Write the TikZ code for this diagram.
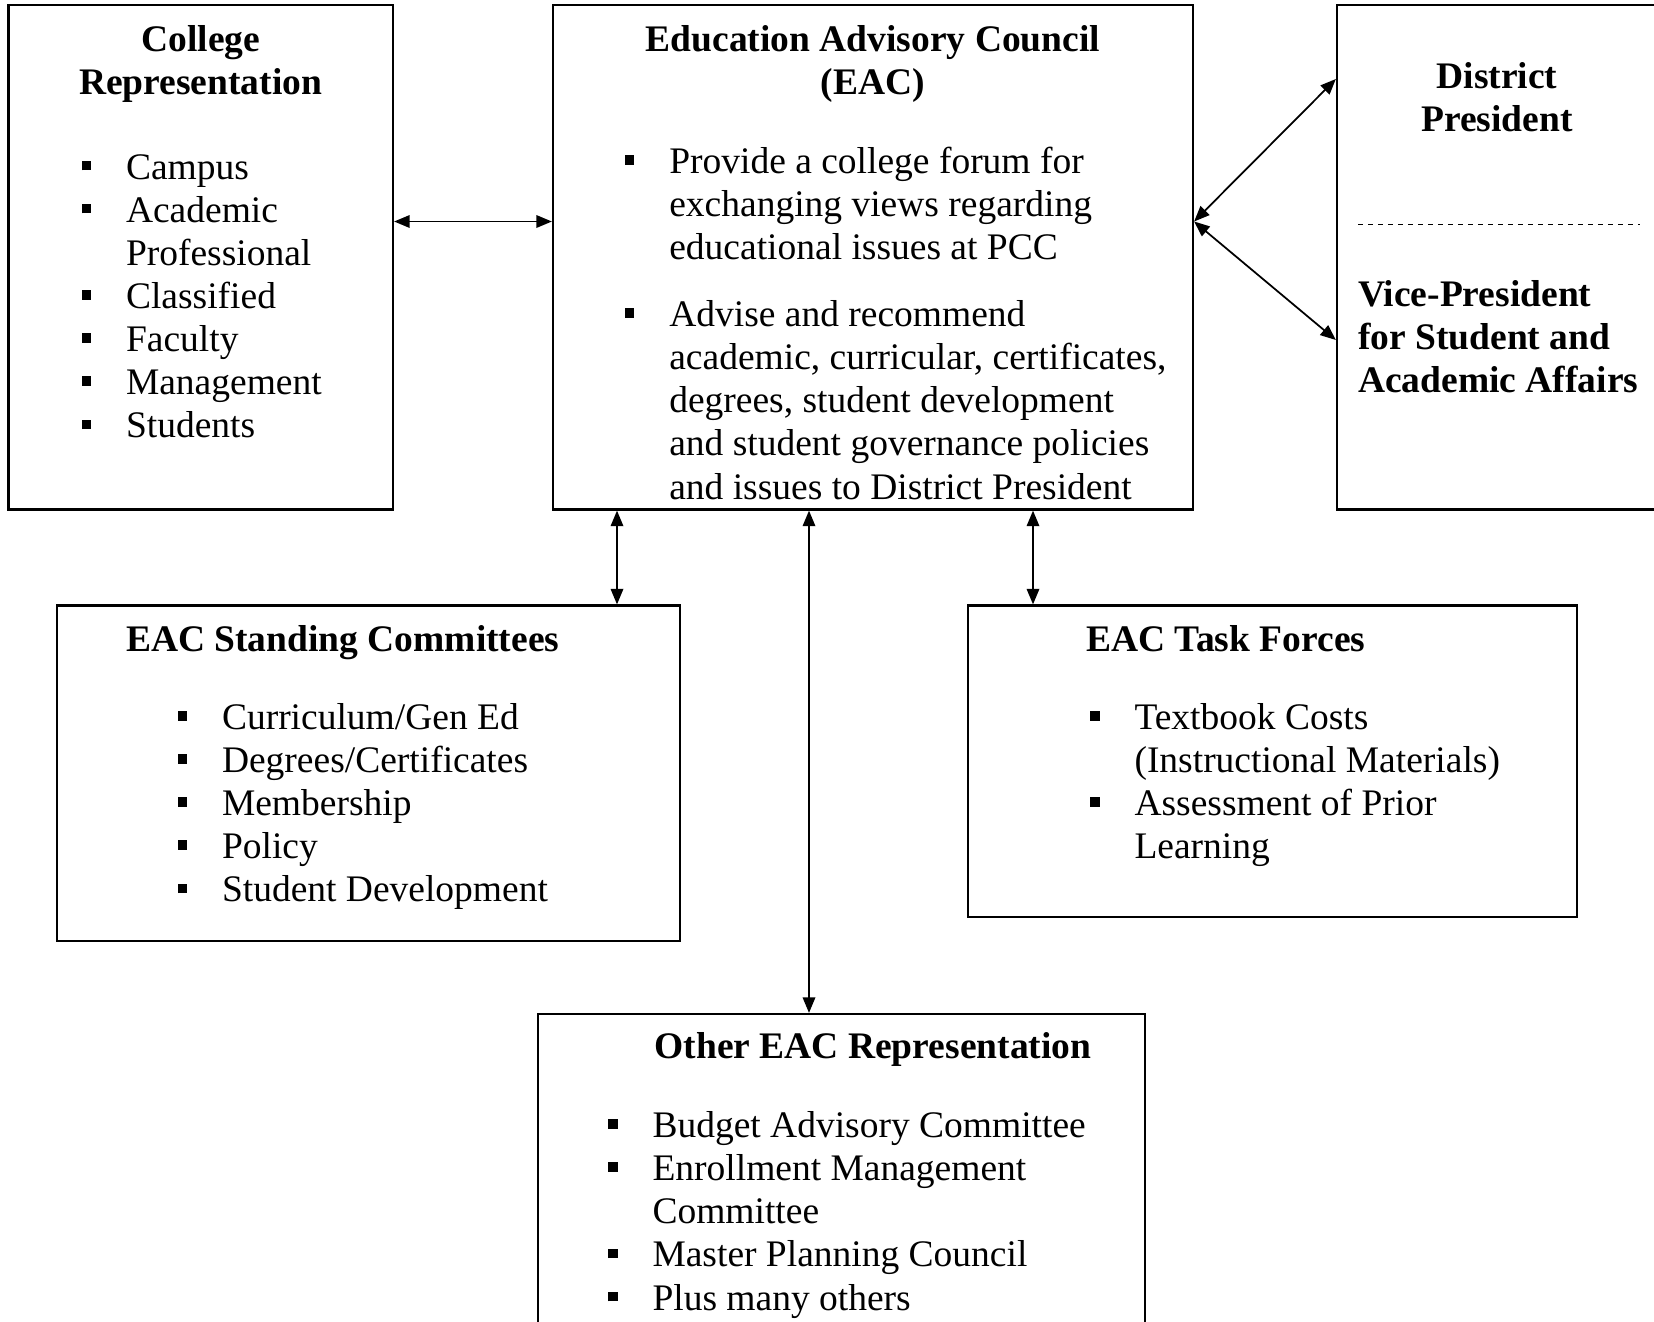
\documentclass[tikz,border=0pt]{standalone}
\usepackage{fontspec}
\setmainfont{Liberation Serif}
\usetikzlibrary{arrows.meta,fit}
\newcommand\sqbul{\makebox[17.8pt][l]{\rule[3.5pt]{3.8pt}{3.8pt}}}
\begin{document}
\begin{tikzpicture}[x=0.4pt,y=-0.4pt,
  box/.style={draw, line width=0.9pt, inner sep=0pt},
  txt/.style={inner sep=0pt, font=\fontsize{15}{17.25}\selectfont},
  hd/.style={inner sep=0pt, font=\fontsize{15}{17.25}\selectfont\bfseries},
  link/.style={line width=0.7pt, {Triangle[length=6.2pt,width=5pt]}-{Triangle[length=6.2pt,width=5pt]}}]
\useasboundingbox (0,0) rectangle (1654,1321);

% boxes
\node[box, fit={(8.4,5.3) (393,509.5)}] (lbox) {};
\node[box, fit={(553,5.3) (1193,509.5)}] (eac) {};
\node[box, fit={(1337,5.3) (1690,509.5)}] (rbox) {};
\node[box, fit={(57,605.5) (680,941)}] (sc) {};
\node[box, fit={(968,605.5) (1577,917)}] (tf) {};
\node[box, fit={(538,1014) (1145,1360)}] (ot) {};

% dotted divider
\coordinate (dl) at (1358,224.7);
\coordinate (dr) at (1640,224.7);
\draw[line width=0.5pt, dash pattern=on 2pt off 2pt] (dl) -- (dr);

% connectors
\coordinate (ya) at (0,221.5);
\coordinate (ypd) at (0,79);
\coordinate (yvp) at (0,340);
\coordinate (x1) at (617,0);
\coordinate (x2) at (809,0);
\coordinate (x3) at (1033,0);
\draw[link] (lbox.east |- ya) -- (eac.west |- ya);
\draw[link] (eac.east |- ya) -- (rbox.west |- ypd);
\draw[link] (eac.east |- ya) -- (rbox.west |- yvp);
\draw[link] (eac.south -| x1) -- (sc.north -| x1);
\draw[link] (eac.south -| x2) -- (ot.north -| x2);
\draw[link] (eac.south -| x3) -- (tf.north -| x3);

% College Representation
\node[hd, anchor=base] (ltitle) at (200.7,51) {\begin{tabular}[t]{@{}c@{}}College\\Representation\end{tabular}};
\node[txt, anchor=base west] (llist) at (81,179) {\begin{tabular}[t]{@{}l@{}l@{}}
\sqbul & Campus\\
\sqbul & Academic\\
 & Professional\\
\sqbul & Classified\\
\sqbul & Faculty\\
\sqbul & Management\\
\sqbul & Students\end{tabular}};

% EAC
\node[hd, anchor=base] (eactitle) at (873,51) {\begin{tabular}[t]{@{}c@{}}Education Advisory Council\\(EAC)\end{tabular}};
\node[txt, anchor=base west] (eaclist) at (624.3,173.4) {\begin{tabular}[t]{@{}l@{}l@{}}
\sqbul & Provide a college forum for\\
 & exchanging views regarding\\
 & educational issues at PCC\\[9.5pt]
\sqbul & Advise and recommend\\
 & academic, curricular, certificates,\\
 & degrees, student development\\
 & and student governance policies\\
 & and issues to District President\end{tabular}};

% right box
\node[hd, anchor=base] (dptitle) at (1497,88) {\begin{tabular}[t]{@{}c@{}}District\\President\end{tabular}};
\node[hd, anchor=base west] (vptitle) at (1357.6,306) {\begin{tabular}[t]{@{}l@{}}Vice-President\\for Student and\\Academic Affairs\end{tabular}};

% Standing committees
\node[hd, anchor=base west] (sctitle) at (125.5,651.3) {EAC Standing Committees};
\node[txt, anchor=base west] (sclist) at (177,729.3) {\begin{tabular}[t]{@{}l@{}l@{}}
\sqbul & Curriculum/Gen Ed\\
\sqbul & Degrees/Certificates\\
\sqbul & Membership\\
\sqbul & Policy\\
\sqbul & Student Development\end{tabular}};

% Task forces
\node[hd, anchor=base west] (tftitle) at (1085.5,651.3) {EAC Task Forces};
\node[txt, anchor=base west] (tflist) at (1089.5,729.3) {\begin{tabular}[t]{@{}l@{}l@{}}
\sqbul & Textbook Costs\\
 & (Instructional Materials)\\
\sqbul & Assessment of Prior\\
 & Learning\end{tabular}};

% Other
\node[hd, anchor=base west] (ottitle) at (654,1058.5) {Other EAC Representation};
\node[txt, anchor=base west] (otlist) at (607.5,1137.6) {\begin{tabular}[t]{@{}l@{}l@{}}
\sqbul & Budget Advisory Committee\\
\sqbul & Enrollment Management\\
 & Committee\\
\sqbul & Master Planning Council\\
\sqbul & Plus many others\end{tabular}};
\end{tikzpicture}
\end{document}
